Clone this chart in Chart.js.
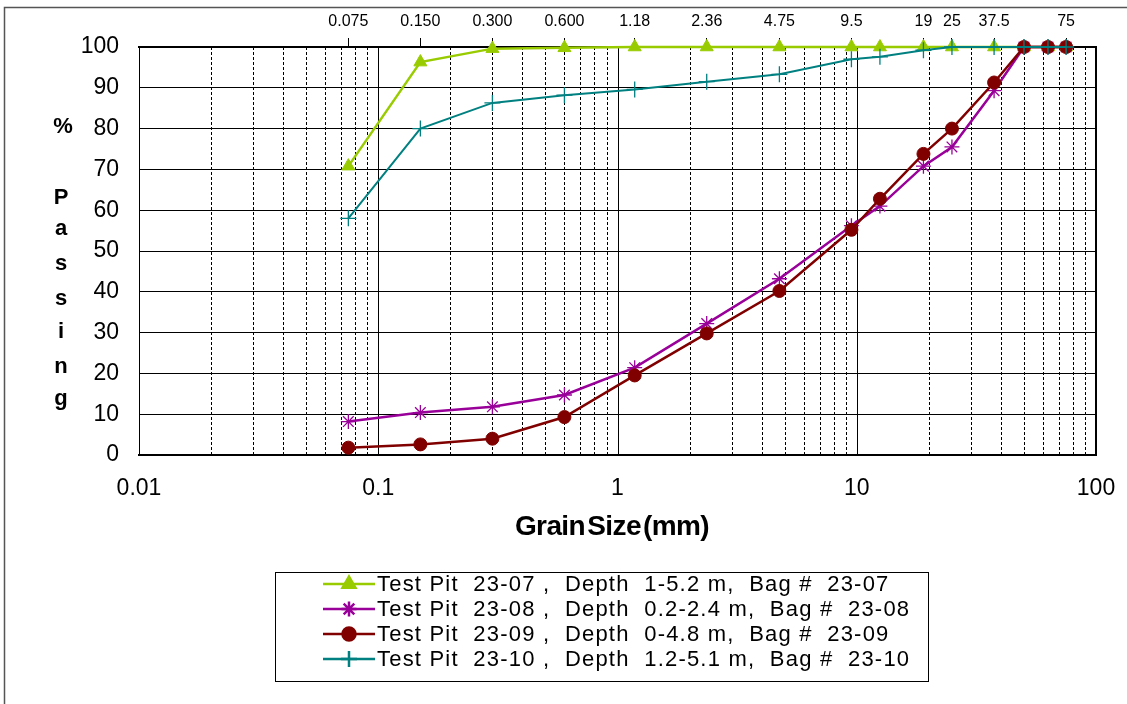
<!DOCTYPE html>
<html>
<head>
<meta charset="utf-8">
<script src="https://cdn.jsdelivr.net/npm/chart.js@4.4.1/dist/chart.umd.min.js"></script>
<style>
  html, body { margin: 0; padding: 0; background: #fff; }
  #wrap { position: relative; width: 1127px; height: 704px; }
</style>
</head>
<body>
<div id="wrap"><canvas id="c"></canvas></div>
<script>
// ---- data ----
const sieveSizes = [0.075, 0.15, 0.3, 0.6, 1.18, 2.36, 4.75, 9.5, 12.5, 19, 25, 37.5, 50, 63, 75];
const pit2307 = [70.8, 96.3, 99.6, 99.8, 100, 100, 100, 100, 100, 100, 100, 100, 100, 100, 100];
const pit2308 = [8.2, 10.4, 11.8, 14.7, 21.4, 32.2, 43.2, 56.2, 61.0, 70.8, 75.5, 89.3, 100, 100, 100];
const pit2309 = [1.8, 2.6, 4.0, 9.3, 19.5, 29.8, 40.2, 55.2, 62.8, 73.8, 80.0, 91.3, 100, 100, 100];
const pit2310 = [58.0, 80.0, 86.3, 88.2, 89.6, 91.5, 93.3, 97.0, 97.6, 99.2, 100, 100, 100, 100, 100];
const seriesLabels = [
  'Test Pit  23-07 ,  Depth  1-5.2 m,  Bag #  23-07',
  'Test Pit  23-08 ,  Depth  0.2-2.4 m,  Bag #  23-08',
  'Test Pit  23-09 ,  Depth  0-4.8 m,  Bag #  23-09',
  'Test Pit  23-10 ,  Depth  1.2-5.1 m,  Bag #  23-10'
];
const topTickValues = [0.075, 0.15, 0.3, 0.6, 1.18, 2.36, 4.75, 9.5, 19, 25, 37.5, 75];
const topTickLabels = ['0.075', '0.150', '0.300', '0.600', '1.18', '2.36', '4.75', '9.5', '19', '25', '37.5', '75'];
const bottomTickLabels = ['0.01', '0.1', '1', '10', '100'];
const xTitle = 'Grain Size (mm)';
const yTitleChars = ['%', 'P', 'a', 's', 's', 'i', 'n', 'g'];

const toPts = vals => sieveSizes.map((s, i) => ({ x: s, y: vals[i] }));

const styles = [
  { color: '#99cc00', point: 'triangle', r: 7.5, bw: 1, lw: 2.5 },
  { color: '#990099', point: 'star', r: 7.5, bw: 1.3, lw: 2.5 },
  { color: '#800000', point: 'circle', r: 6.5, bw: 1, lw: 2.5 },
  { color: '#008080', point: 'cross', r: 8, bw: 1.3, lw: 2 }
];
const seriesValues = [pit2307, pit2308, pit2309, pit2310];

const datasets = seriesValues.map((v, i) => ({
  label: seriesLabels[i],
  data: toPts(v),
  borderColor: styles[i].color,
  backgroundColor: styles[i].color,
  pointBackgroundColor: styles[i].color,
  pointBorderColor: styles[i].color,
  pointStyle: styles[i].point,
  pointRadius: styles[i].r,
  pointBorderWidth: styles[i].bw,
  borderWidth: styles[i].lw,
  tension: 0,
  clip: 30,
  fill: false
}));
datasets.reverse();

const FONT = '"Liberation Sans", Arial, sans-serif';
const noPad = s => { s.paddingLeft = 0; s.paddingRight = 0; };

const decor = {
  id: 'decor',
  beforeDatasetsDraw(chart) {
    const ctx = chart.ctx, a = chart.chartArea, xs = chart.scales.x;
    ctx.save();
    ctx.strokeStyle = '#000';
    ctx.lineWidth = 1;
    for (let e = -2; e < 2; e++) {
      for (let m = 1; m <= 9; m++) {
        const v = m * Math.pow(10, e);
        const px = Math.round(xs.getPixelForValue(v)) + 0.5;
        if (px <= a.left + 1 || px >= a.right - 1) continue;
        ctx.setLineDash(m === 1 ? [] : [3, 2]);
        ctx.beginPath();
        ctx.moveTo(px, a.top);
        ctx.lineTo(px, a.bottom);
        ctx.stroke();
      }
    }
    ctx.setLineDash([]);
    ctx.lineWidth = 2;
    ctx.beginPath();
    ctx.moveTo(a.right, a.top);
    ctx.lineTo(a.right, a.bottom);
    ctx.stroke();
    ctx.restore();
  },
  afterDraw(chart) {
    const ctx = chart.ctx;
    ctx.save();
    // outer frame
    ctx.strokeStyle = '#555';
    ctx.lineWidth = 1.5;
    ctx.strokeRect(4.5, 7.5, 1140, 720);
    // y title stacked
    ctx.fillStyle = '#000';
    ctx.font = 'bold 22px ' + FONT;
    ctx.textAlign = 'center';
    ctx.textBaseline = 'alphabetic';
    const ys = [133, 204, 235, 270, 305, 338, 373, 405];
    yTitleChars.forEach((c, i) => ctx.fillText(c, i === 0 ? 63 : 61, ys[i]));
    // x title
    ctx.font = 'bold 28px ' + FONT;
    try { ctx.letterSpacing = '-0.6px'; ctx.wordSpacing = '-5px'; } catch (e) {}
    ctx.fillText(xTitle, 612, 535);
    try { ctx.letterSpacing = '0px'; ctx.wordSpacing = '0px'; } catch (e) {}
    // legend
    const lx = 275, ly = 572, lw = 653, lh = 109;
    ctx.strokeStyle = '#000';
    ctx.lineWidth = 1;
    ctx.strokeRect(lx + 0.5, ly + 0.5, lw, lh);
    ctx.textAlign = 'left';
    ctx.textBaseline = 'middle';
    ctx.font = '22px ' + FONT;
    seriesLabels.forEach((lab, i) => {
      const yy = 584 + i * 25;
      const st = styles[i];
      ctx.strokeStyle = st.color;
      ctx.fillStyle = st.color;
      ctx.lineWidth = 2.5;
      ctx.beginPath();
      ctx.moveTo(323, yy);
      ctx.lineTo(375, yy);
      ctx.stroke();
      Chart.helpers.drawPoint(ctx, {
        pointStyle: st.point, radius: st.r, borderWidth: st.bw * 1.2, rotation: 0
      }, 349, yy);
      ctx.fillStyle = '#000';
      try { ctx.letterSpacing = '1.2px'; } catch (e) {}
      ctx.fillText(lab, 377, yy + 1);
      try { ctx.letterSpacing = '0px'; } catch (e) {}
    });
    ctx.restore();
  }
};

new Chart(document.getElementById('c'), {
  type: 'line',
  data: { datasets },
  plugins: [decor],
  options: {
    responsive: true,
    maintainAspectRatio: false,
    animation: false,
    layout: { padding: { left: 0, right: 31, top: 0, bottom: 0 } },
    plugins: { legend: { display: false }, tooltip: { enabled: false } },
    scales: {
      x: {
        type: 'logarithmic',
        position: 'bottom',
        min: 0.01,
        max: 100,
        afterBuildTicks: s => { s.ticks = [0.01, 0.1, 1, 10, 100].map(v => ({ value: v })); },
        afterFit: s => { s.height = 249; noPad(s); },
        ticks: {
          autoSkip: false,
          maxRotation: 0,
          padding: 20,
          color: '#000',
          font: { family: FONT, size: 23 },
          callback: (v, i) => bottomTickLabels[i]
        },
        grid: { display: false, drawTicks: false },
        border: { display: true, color: '#000', width: 2 }
      },
      x2: {
        type: 'logarithmic',
        position: 'top',
        min: 0.01,
        max: 100,
        afterBuildTicks: s => { s.ticks = topTickValues.map(v => ({ value: v })); },
        afterFit: s => { s.height = 47; noPad(s); },
        ticks: {
          autoSkip: false,
          maxRotation: 0,
          padding: 7,
          color: '#000',
          font: { family: FONT, size: 16 },
          callback: (v, i) => topTickLabels[i]
        },
        grid: { display: true, drawOnChartArea: false, drawTicks: true, tickLength: 9, color: '#000', lineWidth: 1 },
        border: { display: true, color: '#000', width: 2 }
      },
      y: {
        min: 0,
        max: 100,
        afterFit: s => { s.width = 139; s.paddingTop = 0; s.paddingBottom = 0; },
        ticks: {
          stepSize: 10,
          padding: 20,
          color: '#000',
          font: { family: FONT, size: 23 }
        },
        grid: { display: true, drawTicks: false, color: '#000', lineWidth: 1 },
        border: { display: true, color: '#000', width: 1 }
      }
    }
  }
});
</script>
</body>
</html>
